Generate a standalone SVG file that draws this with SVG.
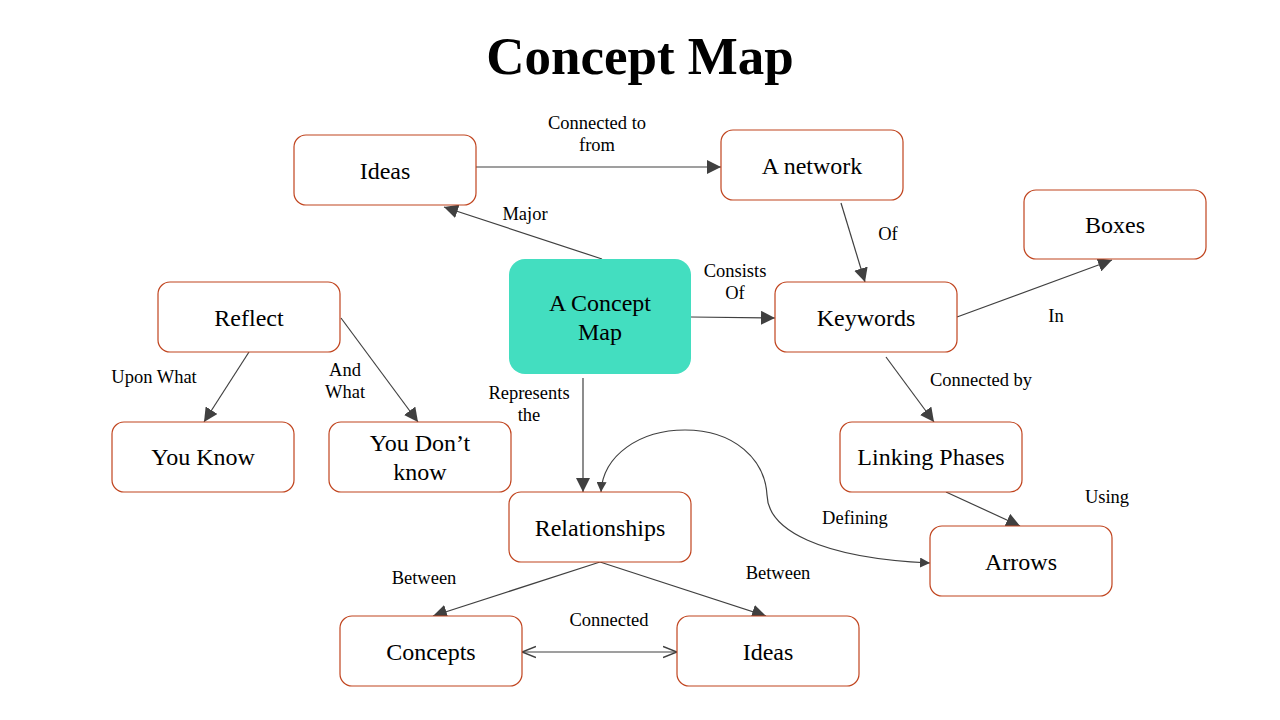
<svg xmlns="http://www.w3.org/2000/svg" width="1280" height="720" viewBox="0 0 1280 720">
<style>
.n{fill:#fff;stroke:#C0441E;stroke-width:1.2}
.c{fill:#43DEC0;stroke:none}
.t{font-family:"Liberation Serif","Times New Roman",serif;font-size:24px;fill:#000;text-anchor:middle}
.l{font-family:"Liberation Serif","Times New Roman",serif;font-size:18.5px;fill:#000;text-anchor:middle}
.e{fill:none;stroke:#404040;stroke-width:1.2}
</style>
<defs>
<marker id="a" viewBox="0 0 10 10" refX="10" refY="5" markerWidth="10" markerHeight="10" markerUnits="userSpaceOnUse" orient="auto">
<path d="M0,0 L10,5 L0,10 z" fill="#404040"/>
</marker>
<marker id="b" viewBox="0 0 10 10" refX="10" refY="5" markerWidth="14" markerHeight="14" markerUnits="userSpaceOnUse" orient="auto">
<path d="M0,0 L10,5 L0,10 z" fill="#404040"/>
</marker>
<marker id="o" viewBox="0 0 10 10" refX="10" refY="5" markerWidth="14" markerHeight="14" markerUnits="userSpaceOnUse" orient="auto-start-reverse">
<path d="M0,1 L10,5 L0,9" fill="none" stroke="#404040" stroke-width="1"/>
</marker>
</defs>
<rect width="1280" height="720" fill="#fff"/>
<text x="640" y="74" font-family="Liberation Serif,'Times New Roman',serif" font-size="53" font-weight="bold" text-anchor="middle">Concept Map</text>
<g id="connectors">
<line class="e" x1="476" y1="167" x2="721" y2="167" marker-end="url(#b)"/>
<line class="e" x1="602" y1="259" x2="444" y2="207" marker-end="url(#b)"/>
<line class="e" x1="691" y1="317" x2="775" y2="318" marker-end="url(#b)"/>
<line class="e" x1="841" y1="203" x2="865" y2="282" marker-end="url(#b)"/>
<line class="e" x1="957" y1="317" x2="1112" y2="260" marker-end="url(#b)"/>
<line class="e" x1="249" y1="352" x2="204" y2="422" marker-end="url(#b)"/>
<line class="e" x1="341" y1="318" x2="418" y2="422" marker-end="url(#b)"/>
<line class="e" x1="583" y1="378" x2="583" y2="492" marker-end="url(#b)"/>
<line class="e" x1="886" y1="357" x2="934" y2="422" marker-end="url(#b)"/>
<line class="e" x1="946" y1="492" x2="1020" y2="526" marker-end="url(#b)"/>
<line class="e" x1="600" y1="562" x2="433" y2="616" marker-end="url(#b)"/>
<line class="e" x1="600" y1="562" x2="766" y2="616" marker-end="url(#b)"/>
<line class="e" x1="522" y1="652" x2="677" y2="652" marker-start="url(#o)" marker-end="url(#o)"/>
<path class="e" d="M767,495 C768,530 820,558 930,563" marker-end="url(#a)"/>
<path class="e" d="M767,495 C765,460 735,430 685,430 C640,430 603,455 601,492" marker-end="url(#a)"/>
</g>
<g id="ideas-top"><rect class="n" x="294" y="135" width="182" height="70" rx="12"/><text class="t" x="385" y="179">Ideas</text></g>
<g id="network"><rect class="n" x="721" y="130" width="182" height="70" rx="12"/><text class="t" x="812" y="174">A network</text></g>
<g id="boxes"><rect class="n" x="1024" y="190" width="182" height="69" rx="12"/><text class="t" x="1115" y="233">Boxes</text></g>
<g id="reflect"><rect class="n" x="158" y="282" width="182" height="70" rx="12"/><text class="t" x="249" y="326">Reflect</text></g>
<g id="concept-map"><rect class="c" x="509" y="259" width="182" height="115" rx="16"/><text class="t" x="600" y="311">A Concept</text><text class="t" x="600" y="340">Map</text></g>
<g id="keywords"><rect class="n" x="775" y="282" width="182" height="70" rx="12"/><text class="t" x="866" y="326">Keywords</text></g>
<g id="you-know"><rect class="n" x="112" y="422" width="182" height="70" rx="12"/><text class="t" x="203" y="465">You Know</text></g>
<g id="you-dont-know"><rect class="n" x="329" y="422" width="182" height="70" rx="12"/><text class="t" x="420" y="451">You Don’t</text><text class="t" x="420" y="480">know</text></g>
<g id="linking"><rect class="n" x="840" y="422" width="182" height="70" rx="12"/><text class="t" x="931" y="465">Linking Phases</text></g>
<g id="relationships"><rect class="n" x="509" y="492" width="182" height="70" rx="12"/><text class="t" x="600" y="536">Relationships</text></g>
<g id="arrows"><rect class="n" x="930" y="526" width="182" height="70" rx="12"/><text class="t" x="1021" y="570">Arrows</text></g>
<g id="concepts"><rect class="n" x="340" y="616" width="182" height="70" rx="12"/><text class="t" x="431" y="660">Concepts</text></g>
<g id="ideas-bottom"><rect class="n" x="677" y="616" width="182" height="70" rx="12"/><text class="t" x="768" y="660">Ideas</text></g>
<g id="labels">
<text class="l" x="597" y="129">Connected to</text>
<text class="l" x="597" y="151">from</text>
<text class="l" x="525" y="220">Major</text>
<text class="l" x="888" y="240">Of</text>
<text class="l" x="735" y="277">Consists</text>
<text class="l" x="735" y="299">Of</text>
<text class="l" x="1056" y="322">In</text>
<text class="l" x="154" y="383">Upon What</text>
<text class="l" x="345" y="376">And</text>
<text class="l" x="345" y="398">What</text>
<text class="l" x="529" y="399">Represents</text>
<text class="l" x="529" y="421">the</text>
<text class="l" x="981" y="386">Connected by</text>
<text class="l" x="1107" y="503">Using</text>
<text class="l" x="855" y="524">Defining</text>
<text class="l" x="424" y="584">Between</text>
<text class="l" x="778" y="579">Between</text>
<text class="l" x="609" y="626">Connected</text>
</g>
</svg>
